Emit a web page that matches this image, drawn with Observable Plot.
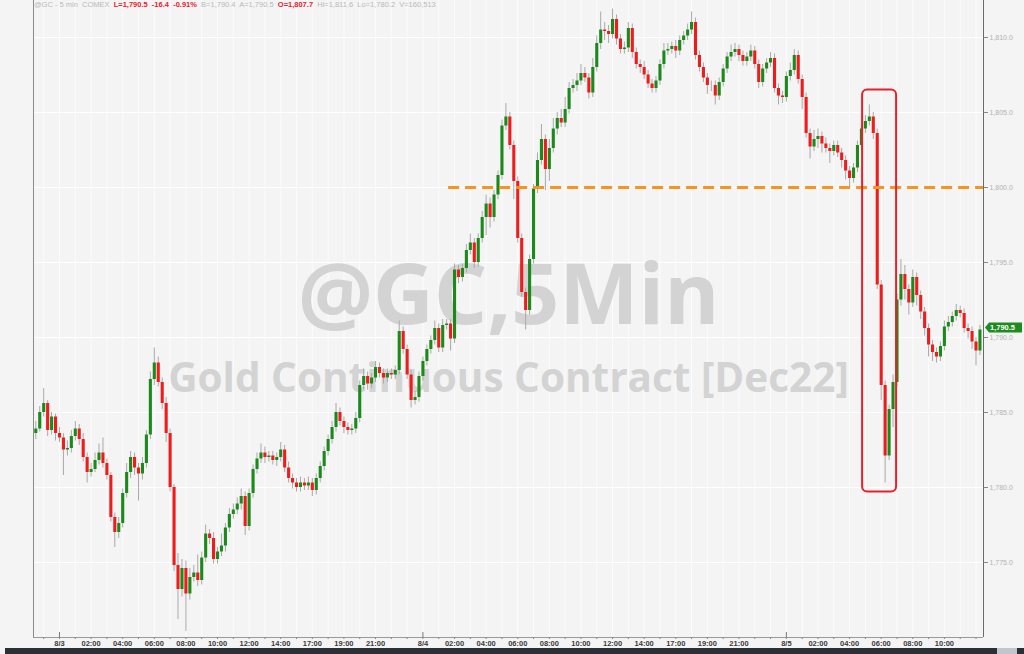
<!DOCTYPE html>
<html><head><meta charset="utf-8">
<script src="https://cdn.jsdelivr.net/npm/d3@7"></script>
<script src="https://cdn.jsdelivr.net/npm/@observablehq/plot@0.6"></script>
<style>
html,body{margin:0;padding:0;background:#f4f4f4;}
#wrap{position:relative;width:1024px;height:654px;overflow:hidden;background:#f4f4f4;}
#chart svg{display:block;}
#hdr{position:absolute;left:34px;top:0px;font:7.5px "Liberation Sans",Arial,sans-serif;color:#b9b9b9;white-space:pre;line-height:10px;}
#hdr b{color:#e8202a;}
#bar{position:absolute;left:5px;right:0;top:648px;height:6px;background:#2b3036;}
#thumb{position:absolute;left:997px;width:20px;top:648px;height:6px;background:#bfc6cd;}
</style></head><body><div id="wrap"><div id="chart"></div><div id="hdr"></div><div id="bar"></div><div id="thumb"></div></div>
<script>
// 15-minute bars (bar index), closes
const firstOpen = 1783.6;
const closes = [
1783.9,1785.0,1785.6,1783.8,1784.7,1783.6,1783.3,1782.5,1782.6,1783.4,
1783.9,1783.2,1782.0,1781.0,1781.2,1781.8,1782.3,1781.6,1780.8,1778.0,
1777.0,1777.6,1779.6,1781.0,1782.0,1781.3,1780.9,1781.6,1783.5,1787.2,
1788.3,1787.0,1785.6,1783.6,1780.0,1774.8,1773.2,1774.6,1772.9,1774.0,
1774.3,1773.8,1775.3,1776.9,1776.6,1775.2,1775.7,1776.1,1777.3,1778.2,
1778.5,1778.9,1779.4,1777.4,1779.6,1781.2,1781.9,1782.3,1782.0,1782.1,
1781.8,1782.0,1782.5,1781.3,1780.6,1780.3,1780.0,1780.3,1780.1,1780.3,
1779.8,1780.6,1781.4,1782.4,1783.2,1784.0,1785.0,1784.4,1784.0,1783.8,
1783.9,1784.6,1786.8,1787.4,1786.9,1787.3,1788.0,1787.6,1787.3,1787.6,
1787.5,1787.8,1790.4,1789.2,1787.5,1785.8,1786.0,1787.4,1788.4,1789.2,
1789.8,1790.6,1789.3,1790.8,1790.9,1789.9,1794.5,1794.0,1794.6,1795.8,
1796.3,1795.0,1796.6,1798.0,1798.9,1798.0,1799.5,1800.8,1804.1,1804.7,
1802.8,1800.4,1796.6,1793.0,1791.8,1795.2,1799.9,1801.8,1803.2,1801.2,
1802.6,1803.9,1804.6,1804.3,1805.2,1806.6,1806.8,1807.1,1807.6,1807.3,
1806.3,1808.0,1809.6,1810.5,1810.4,1810.2,1811.2,1809.9,1809.2,1809.3,
1810.6,1809.0,1808.2,1808.0,1807.5,1806.9,1806.6,1807.1,1808.2,1809.1,
1809.2,1809.4,1809.1,1809.8,1810.1,1810.5,1811.0,1808.8,1808.0,1807.3,
1806.8,1806.8,1806.1,1807.0,1807.9,1808.7,1809.0,1809.2,1808.8,1808.4,
1808.7,1809.1,1808.2,1807.0,1807.9,1808.3,1808.6,1806.6,1806.1,1806.0,
1807.4,1807.8,1808.8,1807.2,1806.0,1803.6,1802.7,1803.2,1803.4,1802.9,
1802.6,1802.4,1802.8,1802.3,1801.8,1801.1,1800.6,1801.3,1802.8,1803.9,
1804.4,1804.7,1803.6,1793.5,1786.8,1782.1,1785.2,1787.0,1792.5,1794.2,
1793.2,1792.3,1794.0,1792.8,1791.7,1790.6,1789.5,1789.0,1788.7,1789.4,
1790.7,1791.0,1791.4,1791.8,1791.6,1790.6,1790.4,1789.7,1789.1,1790.5
];
// wick lengths beyond the body, in tenths of a dollar
const upWick = [
5,4,10,2,3,2,4,3,5,4, 5,3,4,3,4,5,6,10,3,2, 3,4,3,6,4,3,3,4,3,5, 10,4,3,4,3,2,8,6,5,6,
5,12,4,6,3,4,3,8,3,4, 4,4,5,3,3,3,4,6,4,3, 3,3,5,3,4,3,3,4,3,4, 3,3,3,3,3,4,6,3,3,3,
3,4,3,5,3,3,4,3,3,3, 3,3,7,3,3,3,4,3,3,3, 3,5,3,4,3,3,4,3,3,4, 6,3,3,4,6,4,3,3,4,9,
3,3,3,3,3,3,3,5,10,3, 6,7,4,6,8,4,4,5,6,4, 3,6,5,12,5,4,7,3,3,4, 4,3,3,3,4,3,3,3,3,5,
4,3,4,3,3,4,7,3,3,3, 3,3,3,3,3,3,5,4,3,3, 3,4,3,3,3,3,4,3,3,3, 3,5,4,3,3,3,3,6,5,3,
4,3,3,3,3,3,3,3,3,3, 4,8,3,3,3,3,3,5,4,10, 6,3,5,3,3,3,3,3,3,3, 4,4,3,4,3,3,3,3,3,3
];
const downWick = [
4,2,3,4,3,5,3,17,4,3, 3,4,3,7,3,2,3,3,3,3, 10,4,3,3,4,5,18,4,3,3, 4,3,4,6,3,4,20,5,25,4,
3,4,3,3,4,3,3,3,4,3, 3,3,4,6,3,3,3,3,4,3, 3,4,3,3,3,4,3,3,3,3, 4,3,3,3,3,3,3,3,4,3,
3,3,3,3,4,3,3,3,4,3, 3,3,3,3,3,5,3,3,3,3, 3,3,3,3,3,8,3,4,3,3, 3,4,3,3,12,7,3,3,3,3,
3,12,3,3,13,3,3,3,3,14, 8,3,4,3,3,3,3,4,3,3, 4,3,3,4,6,6,3,4,3,3, 3,4,3,4,3,3,3,3,3,3,
3,3,5,3,3,3,3,3,3,3, 6,4,6,3,3,3,3,3,4,3, 3,3,3,4,3,3,3,3,6,4, 3,3,3,3,8,3,8,3,6,6,
3,8,3,3,5,6,6,3,3,3, 3,3,4,3,10,18,3,12,3,4, 7,8,3,7,5,5,8,6,4,3, 3,3,3,3,3,3,5,5,10,3
];
const tickBars   = [6,14,22,30,38,46,54,62,70,78,86,98,106,114,122,130,138,146,154,162,170,178,190,198,206,214,222,230];
const tickLabels = ["8/3","02:00","04:00","06:00","08:00","10:00","12:00","14:00","17:00","19:00","21:00",
                    "8/4","02:00","04:00","06:00","08:00","10:00","12:00","14:00","17:00","19:00","21:00",
                    "8/5","02:00","04:00","06:00","08:00","10:00"];
const dateBars = [6,98,190];
const priceTicks = [1775,1780,1785,1790,1795,1800,1805,1810];
const xDomain = [-0.58, 239.9];
const yDomain = [1770, 1812.467];
const levelPrice = 1800, levelStartBar = 104.5;
const boxBars = [209.3, 217.9], boxPrices = [1779.7, 1806.5];
const watermark = ["@GC,5Min", "Gold Continuous Contract [Dec22]"];
const headerParts = [["@GC - 5 min  COMEX  ",false],["L=1,790.5  -16.4  -0.91%",true],["  B=1,790.4  A=1,790.5  ",false],["O=1,807.7",true],["  Hi=1,811.6  Lo=1,780.2  V=160,513",false]];

const bars = closes.map((c, i) => {
  const o = i ? closes[i - 1] : firstOpen;
  return {i, o, c, hi: Math.max(o, c) + upWick[i] / 10, lo: Math.min(o, c) - downWick[i] / 10};
});
const hourBars = d3.range(2, 240, 4);
const labelOf = new Map(tickBars.map((b, i) => [b, tickLabels[i]]));

const chart = Plot.plot({
  width: 1024, height: 648,
  marginLeft: 33, marginRight: 41, marginTop: 0, marginBottom: 11,
  style: {background: "transparent", fontFamily: "'Liberation Sans', Arial, sans-serif", overflow: "visible"},
  x: {domain: xDomain, label: null},
  y: {domain: yDomain, label: null},
  marks: [
    Plot.gridX(hourBars, {stroke: "#fcfcfc", strokeOpacity: 1}),
    Plot.gridY(priceTicks, {stroke: "#ffffff", strokeOpacity: 1}),
    Plot.text([watermark[0]], {frameAnchor: "middle", dy: -22, text: d => d, fontSize: 84, fontWeight: 700, fill: "#d3d3d3", fontFamily: "'Open Sans', sans-serif"}),
    Plot.text([watermark[1]], {frameAnchor: "middle", dy: 60, text: d => d, fontSize: 40.5, fontWeight: 700, fill: "#d3d3d3", fontFamily: "'Open Sans', sans-serif"}),
    Plot.ruleX(bars, {x: "i", y1: "lo", y2: "hi", stroke: "#a9a9a9", strokeWidth: 1}),
    Plot.ruleX(bars, {x: "i", y1: "o", y2: "c", stroke: d => d.c >= d.o ? "#1b8a1b" : "#ee1c1c", strokeWidth: 3.1}),
    Plot.ruleY([levelPrice], {x1: levelStartBar, x2: xDomain[1], stroke: "#f7931e", strokeWidth: 3, strokeDasharray: "11,6"}),
    Plot.rect([0], {x1: boxBars[0], x2: boxBars[1], y1: boxPrices[0], y2: boxPrices[1], fill: "none", stroke: "#e8202a", strokeWidth: 2, rx: 5}),
    Plot.ruleX([xDomain[0]], {stroke: "#8a8a8a"}),
    Plot.ruleX([xDomain[1]], {stroke: "#6a6a6a"}),
    Plot.ruleY([yDomain[0]], {stroke: "#9a9a9a"}),
    Plot.ruleX(dateBars, {y1: yDomain[0], y2: yDomain[0] + 0.33, stroke: "#777"}),
    Plot.axisX(hourBars, {text: null, tickSize: 2, stroke: "#888", label: null}),
    Plot.axisX(tickBars, {tickFormat: d => labelOf.get(d), tickSize: 0, tickPadding: 3, fontSize: 7.5, fontWeight: "bold", fill: "#3a3a3a", label: null}),
    Plot.axisY(priceTicks, {anchor: "right", tickFormat: d3.format(",.1f"), tickSize: 4, tickPadding: 2, fontSize: 7, fill: "#b3b3b3", stroke: "#888", label: null})
  ]
});
document.getElementById("chart").appendChild(chart);

// last-price tag at the right, positioned through the y scale
const last = closes[closes.length - 1];
const ly = chart.scale("y").apply(last) - 2;
const xr = chart.scale("x").apply(xDomain[1]);
const ns = "http://www.w3.org/2000/svg";
const g = document.createElementNS(ns, "g");
const poly = document.createElementNS(ns, "polygon");
poly.setAttribute("points", `${xr+2},${ly} ${xr+6},${ly-5} ${xr+39},${ly-5} ${xr+39},${ly+5} ${xr+6},${ly+5}`);
poly.setAttribute("fill", "#1e8c1e");
const t = document.createElementNS(ns, "text");
t.setAttribute("x", xr + 7); t.setAttribute("y", ly + 2.7);
t.setAttribute("text-anchor", "start");
t.setAttribute("fill", "#fff"); t.setAttribute("font-size", "7.5"); t.setAttribute("font-weight", "bold");
t.setAttribute("font-family", "'Liberation Sans', Arial, sans-serif");
t.textContent = d3.format(",.1f")(last);
g.appendChild(poly); g.appendChild(t);
chart.appendChild(g);

const hdr = document.getElementById("hdr");
headerParts.forEach(([s, red]) => {
  const el = document.createElement(red ? "b" : "span");
  el.textContent = s; hdr.appendChild(el);
});
</script></body></html>
